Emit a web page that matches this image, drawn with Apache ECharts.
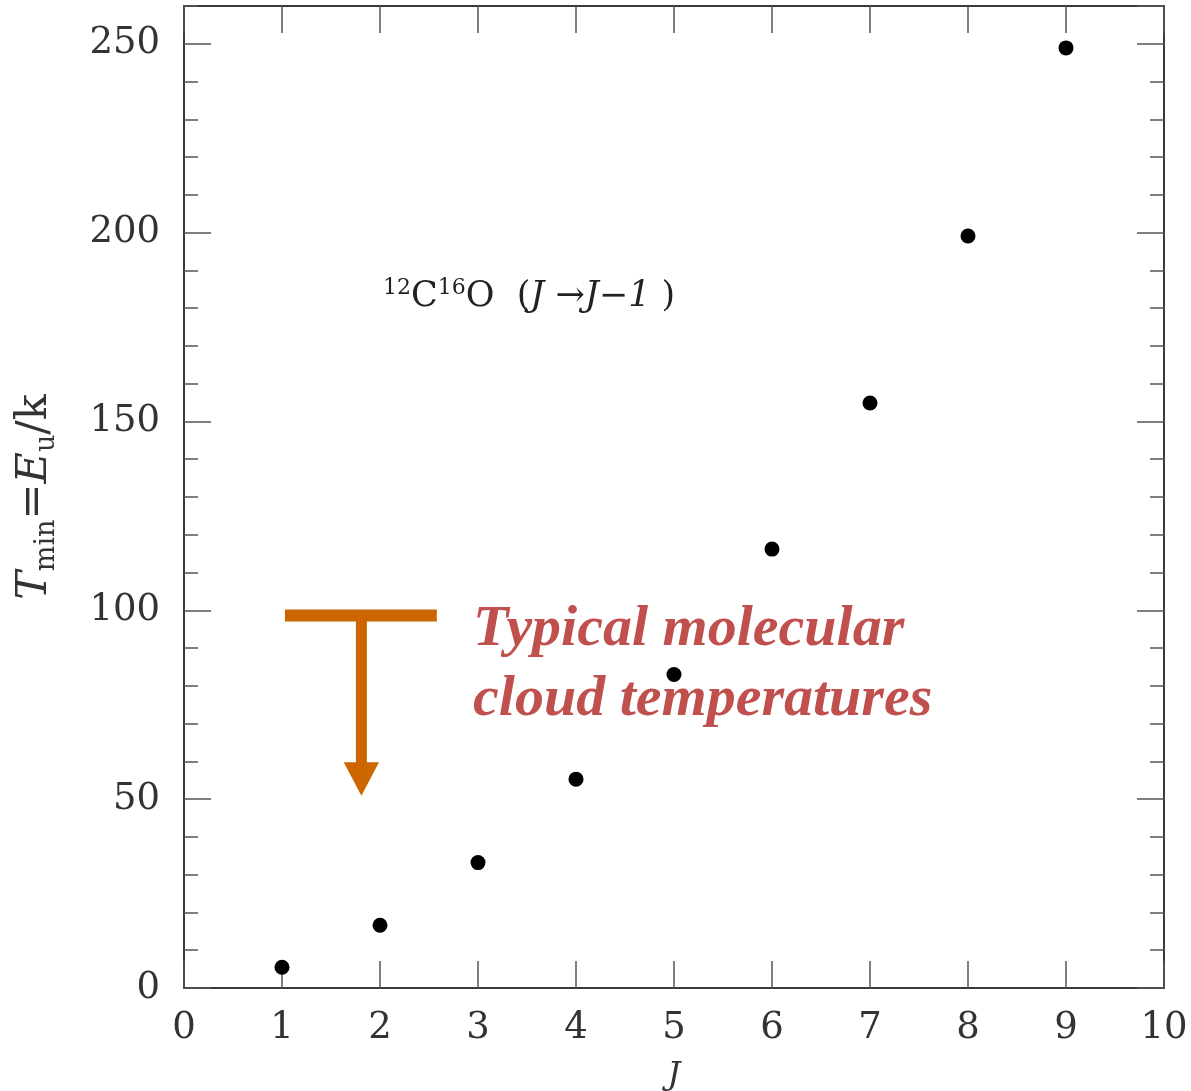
<!DOCTYPE html>
<html>
<head>
<meta charset="utf-8">
<script src="https://cdn.jsdelivr.net/npm/echarts@6/dist/echarts.min.js"></script>
<style>
  html, body { margin: 0; padding: 0; background: #fff; }
  #chart { width: 1191px; height: 1091px; }
</style>
</head>
<body>
<div id="chart"></div>
<script>
// rotational levels J and the upper level energy in K (12C16O)
const jLevels = [1, 2, 3, 4, 5, 6, 7, 8, 9];
const tMin = [5.5, 16.6, 33.2, 55.3, 83.0, 116.2, 154.9, 199.1, 248.9];

// axis ranges
const xRange = [0, 10];
const yRange = [0, 260];

// annotation anchors, in data units
const barJ = [1.03, 2.58];
const barT = 98.6;
const stemJ = 1.81;
const headBaseT = 59.8;
const headTipT = 50.9;
const headHalfJ = 0.18;
const coLabelAt = [2.03, 183];
const noteAt = [2.95, 104];

const serif = '"DejaVu Serif", "Liberation Serif", serif';
const frame = '#3a3a3a';
const tickCol = '#555';

const chart = echarts.init(document.getElementById('chart'));

function yAxisDef(position, major) {
  return {
    type: 'value',
    position: position,
    min: yRange[0],
    max: yRange[1],
    interval: major ? 50 : 10,
    axisLine: { show: major, onZero: false, lineStyle: { color: frame, width: 2 } },
    axisTick: { show: true, inside: true, length: major ? 27 : 14, lineStyle: { color: tickCol, width: 1.5 } },
    axisLabel: {
      show: major && position === 'left',
      showMaxLabel: false,
      margin: 24,
      color: '#333',
      fontFamily: serif,
      fontSize: 37,
    },
    splitLine: { show: false },
  };
}

const option = {
  animation: false,
  backgroundColor: '#fff',
  grid: { left: 184, right: 27, top: 6, bottom: 103, containLabel: false, outerBoundsMode: 'none' },
  xAxis: [
    {
      type: 'value',
      position: 'bottom',
      min: xRange[0],
      max: xRange[1],
      interval: 1,
      name: 'J',
      nameLocation: 'middle',
      nameGap: 72,
      nameTextStyle: { fontFamily: serif, fontStyle: 'italic', fontSize: 32, color: '#333' },
      axisLine: { onZero: false, lineStyle: { color: frame, width: 2 } },
      axisTick: { inside: true, length: 27, lineStyle: { color: tickCol, width: 1.5 } },
      axisLabel: { margin: 22, color: '#333', fontFamily: serif, fontSize: 37 },
      splitLine: { show: false },
    },
    {
      type: 'value',
      position: 'top',
      min: xRange[0],
      max: xRange[1],
      interval: 1,
      axisLine: { onZero: false, lineStyle: { color: frame, width: 2 } },
      axisTick: { inside: true, length: 27, lineStyle: { color: tickCol, width: 1.5 } },
      axisLabel: { show: false },
      splitLine: { show: false },
    },
  ],
  yAxis: [
    Object.assign(yAxisDef('left', true), {
      name: '{it|T}{sub|min}{rm|=}{it|E}{sub|u}{rm|/k}',
      nameLocation: 'middle',
      nameRotate: 90,
      nameGap: 124,
      nameTextStyle: {
        color: '#333',
        rich: {
          it: { fontFamily: serif, fontStyle: 'italic', fontSize: 43, lineHeight: 50, verticalAlign: 'middle', color: '#333' },
          rm: { fontFamily: serif, fontSize: 43, lineHeight: 50, verticalAlign: 'middle', color: '#333' },
          sub: { fontFamily: serif, fontSize: 27, lineHeight: 26, verticalAlign: 'bottom', color: '#333' },
        },
      },
    }),
    yAxisDef('left', false),
    yAxisDef('right', true),
    yAxisDef('right', false),
  ],
  series: [
    {
      type: 'scatter',
      xAxisIndex: 0,
      yAxisIndex: 0,
      symbol: 'circle',
      symbolSize: 15,
      itemStyle: { color: '#000', opacity: 1 },
      data: jLevels.map((j, i) => [j, tMin[i]]),
    },
  ],
};

chart.setOption(option);

// annotations placed through the axis scales
const px = (p) => chart.convertToPixel({ xAxisIndex: 0, yAxisIndex: 0 }, p);
const barL = px([barJ[0], barT]);
const barR = px([barJ[1], barT]);
const stemTop = px([stemJ, barT]);
const stemBot = px([stemJ, headBaseT]);
const headL = px([stemJ - headHalfJ, headBaseT]);
const headR = px([stemJ + headHalfJ, headBaseT]);
const headTip = px([stemJ, headTipT]);
const coPos = px(coLabelAt);
const notePos = px(noteAt);
const orange = '#cc6600';

chart.setOption({
  graphic: [
    { type: 'line', shape: { x1: barL[0], y1: barL[1], x2: barR[0], y2: barR[1] }, style: { stroke: orange, lineWidth: 12 } },
    { type: 'line', shape: { x1: stemTop[0], y1: stemTop[1], x2: stemBot[0], y2: stemBot[1] + 2 }, style: { stroke: orange, lineWidth: 11 } },
    { type: 'polygon', shape: { points: [headL, headR, headTip] }, style: { fill: orange } },
    {
      type: 'text',
      x: coPos[0],
      y: coPos[1],
      style: {
        text: '{sup|12}{rm|C}{sup|16}{rm|O  (}{it|J}{rm| →}{it|J}{rm|−}{it|1}{rm| )}',
        verticalAlign: 'middle',
        rich: {
          rm: { fontFamily: serif, fontSize: 35, lineHeight: 40, verticalAlign: 'middle', fill: '#222' },
          it: { fontFamily: serif, fontStyle: 'italic', fontSize: 35, lineHeight: 40, verticalAlign: 'middle', fill: '#222' },
          sup: { fontFamily: serif, fontSize: 22, lineHeight: 21, verticalAlign: 'top', fill: '#222' },
        },
      },
    },
    {
      type: 'text',
      x: notePos[0],
      y: notePos[1],
      style: {
        text: 'Typical molecular\ncloud temperatures',
        fill: '#c0504d',
        font: 'italic bold 58px "Liberation Serif", serif',
        lineHeight: 70,
        verticalAlign: 'top',
      },
    },
  ],
});
</script>
</body>
</html>
